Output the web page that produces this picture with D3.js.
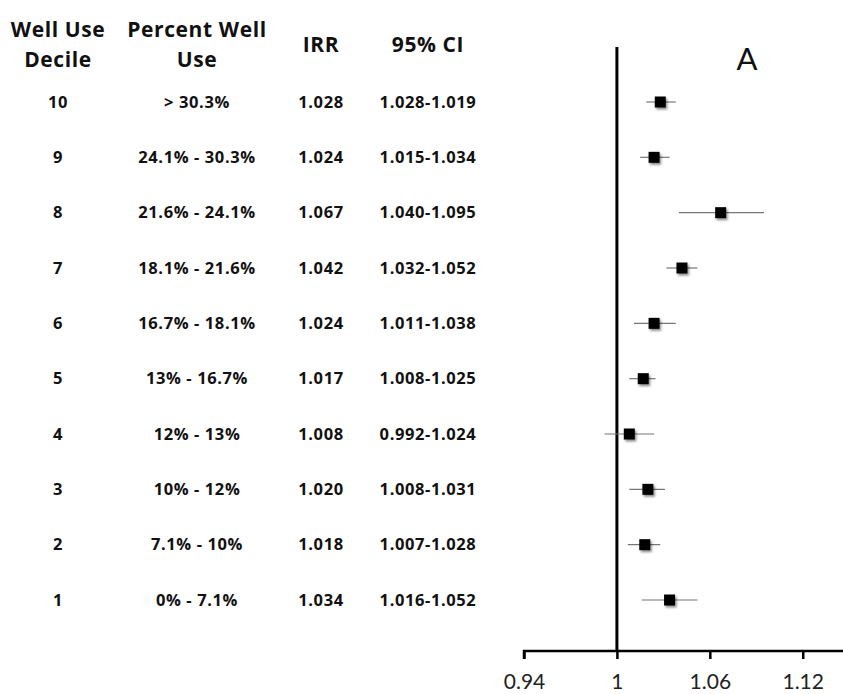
<!DOCTYPE html>
<html>
<head>
<meta charset="utf-8">
<script src="https://cdn.jsdelivr.net/npm/d3@7"></script>
<style>
  body { margin: 0; background: #fff; }
  svg { display: block; }
</style>
</head>
<body>
<svg width="843" height="694"></svg>
<script>
const deciles = ["10", "9", "8", "7", "6", "5", "4", "3", "2", "1"];
const percentUse = [
  "> 30.3%", "24.1% - 30.3%", "21.6% - 24.1%", "18.1% - 21.6%", "16.7% - 18.1%",
  "13% - 16.7%", "12% - 13%", "10% - 12%", "7.1% - 10%", "0% - 7.1%"
];
const irr = [1.028, 1.024, 1.067, 1.042, 1.024, 1.017, 1.008, 1.020, 1.018, 1.034];
const ciLabels = [
  "1.028-1.019", "1.015-1.034", "1.040-1.095", "1.032-1.052", "1.011-1.038",
  "1.008-1.025", "0.992-1.024", "1.008-1.031", "1.007-1.028", "1.016-1.052"
];
const ciLow = [1.019, 1.015, 1.040, 1.032, 1.011, 1.008, 0.992, 1.008, 1.007, 1.016];
const ciHigh = [1.038, 1.034, 1.095, 1.052, 1.038, 1.025, 1.024, 1.031, 1.028, 1.052];
const xTicks = [0.94, 1, 1.06, 1.12];

const svg = d3.select("svg");
const width = parseInt(svg.attr("width"));
const height = parseInt(svg.attr("height"));

const font = "'Open Sans', Lato, sans-serif";

const x = d3.scaleLinear().domain([0.94, 1.146]).range([524, 843]);
const y = d3.scalePoint().domain(deciles).range([102, 600]);
const axisY = 651;

// shadow for the square markers
const defs = svg.append("defs");
const filter = defs.append("filter").attr("id", "shadow")
  .attr("x", "-50%").attr("y", "-50%").attr("width", "200%").attr("height", "200%");
filter.append("feDropShadow")
  .attr("dx", 1.5).attr("dy", 2)
  .attr("stdDeviation", 1.2)
  .attr("flood-color", "#000")
  .attr("flood-opacity", 0.45);

// table headers
const headers = [
  { x: 58, lines: ["Well Use", "Decile"] },
  { x: 197, lines: ["Percent Well", "Use"] },
  { x: 321, lines: ["IRR"] },
  { x: 428, lines: ["95% CI"] }
];
headers.forEach(h => {
  const t = svg.append("text")
    .attr("x", h.x)
    .attr("text-anchor", "middle")
    .attr("font-family", font)
    .attr("font-weight", "bold")
    .attr("font-size", 21)
    .attr("letter-spacing", 0.6)
    .attr("fill", "#111");
  if (h.lines.length === 2) {
    h.lines.forEach((l, i) => {
      t.append("tspan").attr("x", h.x).attr("y", 37 + i * 30).text(l);
    });
  } else {
    t.attr("y", 52).text(h.lines[0]);
  }
});

// table rows
const cols = [
  { x: 58, vals: deciles },
  { x: 197, vals: percentUse },
  { x: 321, vals: irr.map(d => d3.format(".3f")(d)) },
  { x: 428, vals: ciLabels }
];
cols.forEach(c => {
  svg.append("g").selectAll("text")
    .data(c.vals)
    .join("text")
    .attr("x", c.x)
    .attr("y", (d, i) => y(deciles[i]))
    .attr("dy", "0.35em")
    .attr("text-anchor", "middle")
    .attr("font-family", font)
    .attr("font-weight", "bold")
    .attr("font-size", 16.5)
    .attr("letter-spacing", 0.6)
    .attr("fill", "#111")
    .text(d => d);
});

// reference line at 1
svg.append("line")
  .attr("x1", x(1)).attr("x2", x(1))
  .attr("y1", 47).attr("y2", axisY)
  .attr("stroke", "#000")
  .attr("stroke-width", 3);

// x axis
const axis = svg.append("g")
  .attr("transform", `translate(0, ${axisY})`)
  .call(d3.axisBottom(x).tickValues(xTicks).tickSize(8).tickPadding(15)
    .tickFormat(d => String(d)));
axis.select(".domain").attr("stroke", "#000").attr("stroke-width", 2.5)
  .attr("d", `M${x.range()[0]},8V0H${x.range()[1]}`);
axis.selectAll(".tick line").attr("stroke", "#000").attr("stroke-width", 2.5);
axis.selectAll(".tick text")
  .attr("font-family", "Lato, sans-serif")
  .attr("font-size", 21)
  .attr("fill", "#222");

// error bars
svg.append("g").selectAll("line")
  .data(deciles)
  .join("line")
  .attr("x1", (d, i) => x(ciLow[i]))
  .attr("x2", (d, i) => x(ciHigh[i]))
  .attr("y1", d => y(d))
  .attr("y2", d => y(d))
  .attr("stroke", "#777")
  .attr("stroke-width", 1.2);

// markers
const size = 11;
svg.append("g").selectAll("rect")
  .data(deciles)
  .join("rect")
  .attr("x", (d, i) => x(irr[i]) - size / 2)
  .attr("y", d => y(d) - size / 2)
  .attr("width", size)
  .attr("height", size)
  .attr("fill", "#000")
  .attr("filter", "url(#shadow)");

// panel label
svg.append("text")
  .attr("x", 747)
  .attr("y", 70)
  .attr("text-anchor", "middle")
  .attr("font-family", "Lato, sans-serif")
  .attr("font-size", 31)
  .attr("fill", "#111")
  .text("A");
</script>
</body>
</html>
